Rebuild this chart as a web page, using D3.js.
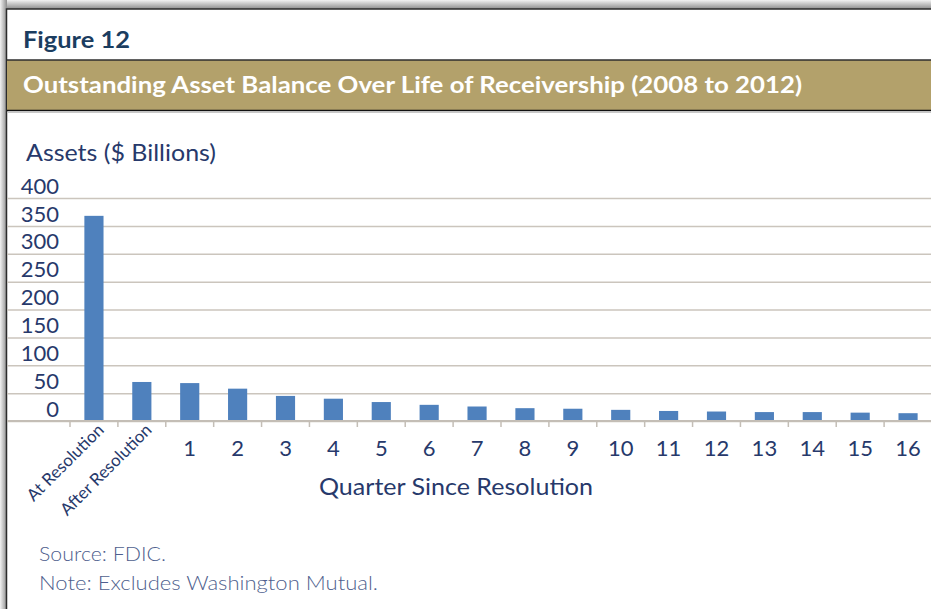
<!DOCTYPE html>
<html>
<head>
<meta charset="utf-8">
<script src="https://cdn.jsdelivr.net/npm/d3@7"></script>
<style>
  body { margin:0; background:#fff; }
  svg text { font-family: Lato, "Open Sans", sans-serif; }
</style>
</head>
<body>
<div id="chart"></div>
<script>
var categories = ["At Resolution","After Resolution","1","2","3","4","5","6","7","8","9","10","11","12","13","14","15","16"];
var assets = [368, 70, 68, 58, 45, 40, 34, 29, 26, 23, 22, 20, 18, 17, 16, 16, 15, 14];
var y_ticks = [0, 50, 100, 150, 200, 250, 300, 350, 400];

const svg_width = 931;
const svg_height = 609;
const svg = d3.select('#chart').append('svg')
  .attr('width', svg_width).attr('height', svg_height);

// frame shadow
const defs = svg.append('defs');
const gTop = defs.append('linearGradient').attr('id','shTop').attr('x1',0).attr('y1',0).attr('x2',0).attr('y2',1);
gTop.append('stop').attr('offset','0%').attr('stop-color','#f2f2f2');
gTop.append('stop').attr('offset','100%').attr('stop-color','#8c8c8c');
const gLeft = defs.append('linearGradient').attr('id','shLeft').attr('x1',0).attr('y1',0).attr('x2',1).attr('y2',0);
gLeft.append('stop').attr('offset','0%').attr('stop-color','#f2f2f2');
gLeft.append('stop').attr('offset','100%').attr('stop-color','#8c8c8c');
svg.append('rect').attr('x',0).attr('y',0).attr('width',svg_width).attr('height',9).attr('fill','url(#shTop)');
svg.append('rect').attr('x',0).attr('y',0).attr('width',7).attr('height',svg_height).attr('fill','url(#shLeft)');
svg.append('rect').attr('x',6.5).attr('y',9).attr('width',svg_width).attr('height',svg_height)
  .attr('fill','#fff').attr('stroke','#2b2b2b').attr('stroke-width',1.5);

// headings
svg.append('text').attr('x',23).attr('y',48).attr('fill','#1b3d60')
  .attr('font-size',23).attr('font-weight','bold')
  .attr('textLength',107).attr('lengthAdjust','spacingAndGlyphs').text('Figure 12');

svg.append('rect').attr('x',7).attr('y',60).attr('width',svg_width).attr('height',50.5)
  .attr('fill','#b3a16b');
svg.append('line').attr('x1',7).attr('x2',svg_width).attr('y1',60).attr('y2',60).attr('stroke','#2e2e2e').attr('stroke-width',1.5);
svg.append('line').attr('x1',7).attr('x2',svg_width).attr('y1',110.5).attr('y2',110.5).attr('stroke','#111').attr('stroke-width',1.5);
svg.append('line').attr('x1',7).attr('x2',svg_width).attr('y1',112.5).attr('y2',112.5).attr('stroke','#c8c8c8').attr('stroke-width',1);
svg.append('text').attr('x',23).attr('y',93).attr('fill','#fff')
  .attr('font-size',23).attr('font-weight','bold')
  .attr('textLength',779).attr('lengthAdjust','spacingAndGlyphs')
  .text('Outstanding Asset Balance Over Life of Receivership (2008 to 2012)');

// scales
const xScale = d3.scaleBand().domain(categories).range([70, 932]).paddingInner(0.6).paddingOuter(0.3);
const yScale = d3.scaleLinear([0, 400], [421, 198]);
const step = xScale.step();

// gridlines
const yGrid = d3.axisLeft(yScale).tickValues(y_ticks).tickSize(-(svg_width - 7)).tickFormat('');
const gridDraw = svg.append('g').attr('transform','translate(7,0)').call(yGrid);
gridDraw.select('.domain').remove();
gridDraw.selectAll('line').attr('stroke','#cbc5bd').attr('stroke-width',1.5);

// y labels (sit above their gridlines, as in the original)
const yAxis = d3.axisLeft(yScale).tickValues(y_ticks).tickSize(0).tickPadding(0);
const yAxisDraw = svg.append('g').attr('transform','translate(59,0)').call(yAxis);
yAxisDraw.select('.domain').remove();
yAxisDraw.selectAll('text').attr('font-size',22).attr('fill','#27396b')
  .attr('dy','-0.22em').style('font-family','Lato, sans-serif');

// bars
svg.selectAll('rect.bar').data(assets).enter().append('rect')
  .attr('class','bar')
  .attr('x',(d,i)=>xScale(categories[i]))
  .attr('y',d=>yScale(d))
  .attr('width',xScale.bandwidth())
  .attr('height',d=>yScale(0)-yScale(d))
  .attr('fill','#4f81bd');

// baseline and boundary ticks
svg.append('line').attr('x1',7).attr('x2',svg_width).attr('y1',yScale(0)).attr('y2',yScale(0))
  .attr('stroke','#c4beb6').attr('stroke-width',2);
svg.selectAll('line.btick').data(categories.concat(['_end'])).enter().append('line')
  .attr('class','btick')
  .attr('x1',(d,i)=>xScale(categories[0]) - step*0.3 + i*step)
  .attr('x2',(d,i)=>xScale(categories[0]) - step*0.3 + i*step)
  .attr('y1',yScale(0)).attr('y2',yScale(0)+6)
  .attr('stroke','#c4beb6').attr('stroke-width',1.5);

// x labels
const xAxis = d3.axisBottom(xScale).tickSize(0).tickPadding(0);
const xAxisDraw = svg.append('g').attr('transform',`translate(0,${yScale(0)})`).call(xAxis);
xAxisDraw.select('.domain').remove();
xAxisDraw.selectAll('.tick text').each(function(d){
  const t = d3.select(this).style('font-family','Lato, sans-serif').attr('fill','#27396b');
  if (isNaN(+d)) {
    t.attr('font-size',17).attr('text-anchor','end').attr('dy',0).attr('y',0)
      .attr('transform','translate(11,10) rotate(-45)');
  } else {
    t.attr('font-size',22).attr('y',35).attr('dy',0);
  }
});

// axis titles
svg.append('text').attr('x',26).attr('y',161).attr('fill','#27396b').attr('font-size',23)
  .attr('textLength',190).attr('lengthAdjust','spacingAndGlyphs')
  .text('Assets ($ Billions)');
svg.append('text').attr('x',319).attr('y',495).attr('fill','#27396b')
  .attr('font-size',23.5).attr('textLength',274).attr('lengthAdjust','spacingAndGlyphs')
  .text('Quarter Since Resolution');

// notes
svg.append('text').attr('x',39).attr('y',561).attr('fill','#4f5f8e').attr('font-size',20)
  .attr('font-weight',300).attr('textLength',127).attr('lengthAdjust','spacingAndGlyphs')
  .text('Source: FDIC.');
svg.append('text').attr('x',39).attr('y',590).attr('fill','#4f5f8e').attr('font-size',20)
  .attr('font-weight',300).attr('textLength',339).attr('lengthAdjust','spacingAndGlyphs')
  .text('Note: Excludes Washington Mutual.');
</script>
</body>
</html>
